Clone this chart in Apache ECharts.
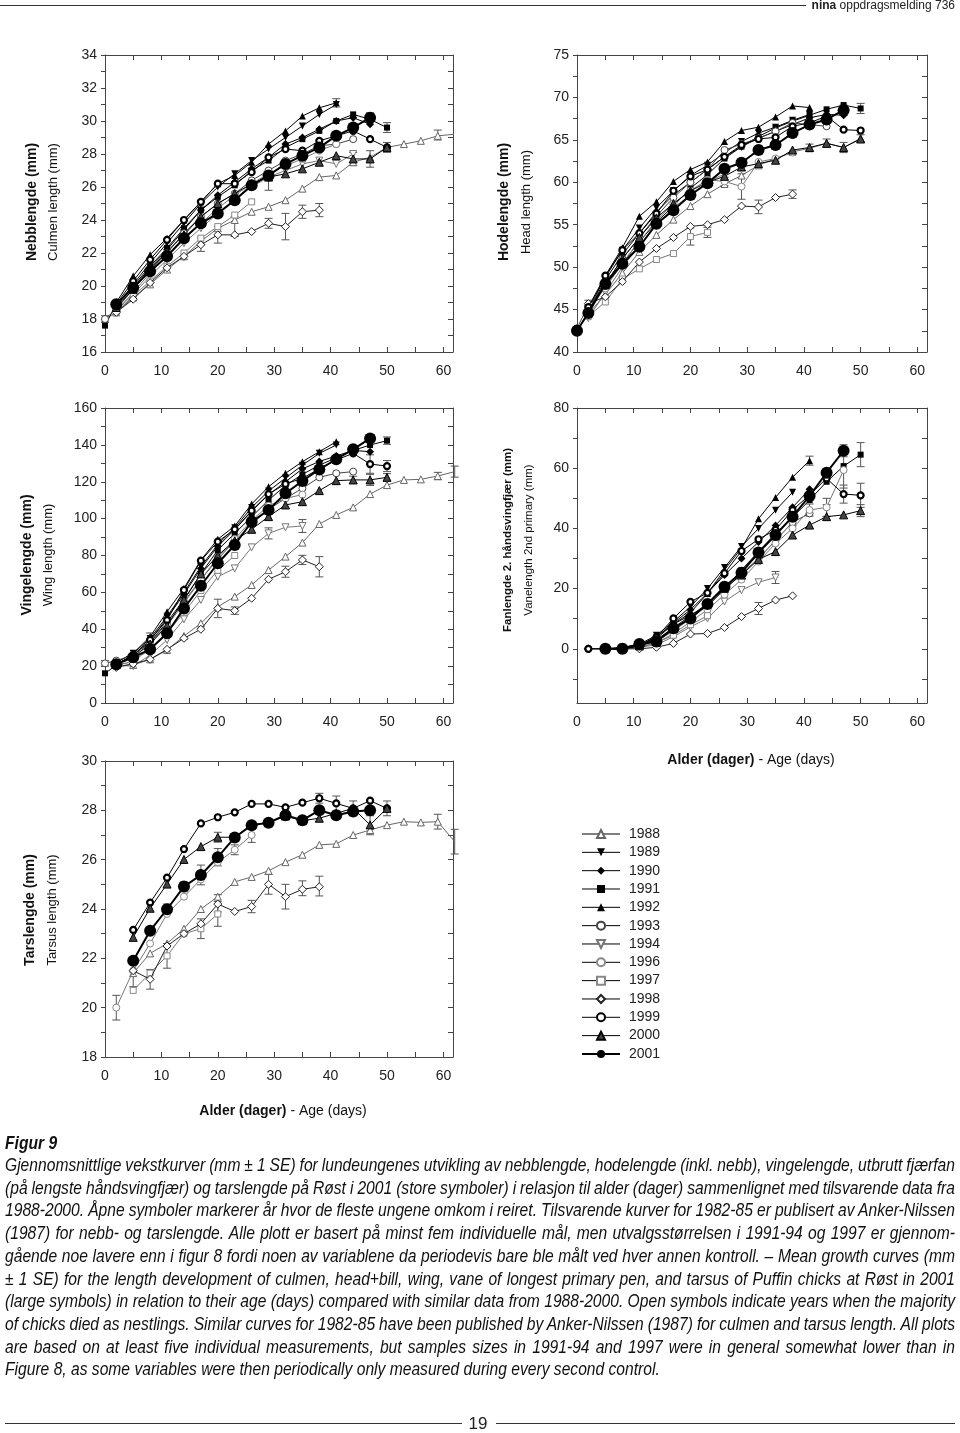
<!DOCTYPE html>
<html>
<head>
<meta charset="utf-8">
<script src="https://cdn.jsdelivr.net/npm/echarts@6/dist/echarts.min.js"></script>
<style>
html,body{margin:0;padding:0;background:#fff;}
#wrap{position:relative;width:960px;height:1433px;overflow:hidden;background:#fff;}
#chart{position:absolute;left:0;top:0;width:960px;height:1433px;}
.cap{position:absolute;left:5px;white-space:nowrap;font-family:'Liberation Sans Narrow','Liberation Sans',sans-serif;font-style:italic;font-size:18px;line-height:20px;color:#111;transform-origin:0 0;}
.hdr{position:absolute;font-family:'Liberation Sans Narrow','Liberation Sans',sans-serif;color:#222;}
.rule{position:absolute;height:1px;background:#333;}
</style>
</head>
<body>
<div id="wrap">
  <div id="chart"></div>
  <div class="rule" style="left:0;top:5px;width:806px;"></div>
  <div class="hdr" style="right:5px;top:-1px;font-size:12px;line-height:12px;"><b>nina</b> oppdragsmelding 736</div>
  <div id="caption"></div>
  <div class="rule" style="left:5px;top:1423px;width:457px;"></div>
  <div class="hdr" style="left:468px;top:1414px;width:20px;text-align:center;font-size:17px;line-height:20px;">19</div>
  <div class="rule" style="left:496px;top:1423px;width:459px;"></div>
</div>
<script>
// ---------------- DATA ----------------
const n = null;
const days = [0,2,5,8,11,14,17,20,23,26,29,32,35,38,41,44,47,50,53,56,59,62];
const years = ['1988','1989','1990','1991','1992','1993','1994','1996','1997','1998','1999','2000','2001'];

const xLabels = [0,10,20,30,40,50,60];
const culmenYLabels = [16,18,20,22,24,26,28,30,32,34];
const headYLabels = [40,45,50,55,60,65,70,75];
const wingYLabels = [0,20,40,60,80,100,120,140,160];
const primaryYLabels = [0,20,40,60,80];
const tarsusYLabels = [18,20,22,24,26,28,30];

// rows follow `years`
const culmenValues = [
  [18.0,18.4,19.3,20.1,21.0,21.8,22.7,23.5,24.0,24.5,24.8,25.2,25.9,26.6,26.7,27.5,27.8,28.4,28.6,28.8,29.1,29.2],
  [n,18.8,20.1,21.4,22.6,23.8,25.0,26.0,26.8,27.6,28.3,29.0,29.7,30.4,31.0],
  [n,18.8,19.9,21.1,22.2,23.4,24.6,25.5,26.3,27.1,27.8,28.6,29.0,29.5,30.0,30.2,29.8],
  [17.6,18.9,20.0,21.2,22.3,23.5,24.6,25.4,26.1,27.0,27.6,28.4,28.9,29.4,30.0,30.4,30.1,29.6],
  [n,19.0,20.6,21.9,22.9,24.0,25.1,26.2,26.7,27.5,28.6,29.4,30.3,30.8,31.1],
  [18.0,18.6,19.8,21.0,22.0,23.2,24.2,25.0,25.6,26.4,27.0,27.6,28.0,28.5,28.6,28.9],
  [n,18.5,19.5,20.6,21.6,22.6,23.5,24.4,25.2,26.0,26.6,27.0,27.4,27.6,27.4,28.0],
  [n,18.5,19.6,20.8,21.8,22.8,23.8,24.7,25.5,26.2,26.8,27.3,27.7,28.2,28.6],
  [n,18.4,19.4,20.3,21.2,22.0,22.9,23.6,24.3,25.1],
  [n,18.4,19.2,20.2,21.1,21.8,22.5,23.1,23.1,23.3,23.8,23.6,24.5,24.6],
  [n,18.9,20.3,21.6,22.8,24.0,25.1,26.2,26.2,26.9,27.8,28.3,28.2,28.8,29.1,29.4,28.9,28.4],
  [n,18.7,19.8,21.0,22.1,23.1,24.2,25.0,25.6,26.2,26.6,26.8,27.1,27.5,27.9,27.7,27.7,28.4],
  [n,18.9,19.9,20.9,21.8,22.9,23.8,24.4,25.2,26.1,26.7,27.4,27.9,28.4,29.1,29.6,30.2]
];
const headValues = [
  [n,44.5,46.8,49.3,51.8,53.8,55.6,57.2,58.6,59.8,60.8,62.0,62.8,63.6,64.0,64.6,64.1,65.2],
  [n,45.0,48.8,52.0,54.6,57.0,59.0,60.8,62.0,63.5,64.8,65.8,66.5,67.3,68.0],
  [n,44.8,48.5,51.5,54.0,56.5,58.5,60.0,61.5,63.0,64.2,65.2,66.0,66.8,67.6,68.0,67.9],
  [42.4,44.8,48.3,50.5,53.0,55.3,57.2,59.3,60.9,62.8,64.2,65.4,66.4,67.2,67.9,68.6,69.1,68.7],
  [n,45.0,49.0,52.3,56.0,57.7,60.1,61.5,62.4,64.8,66.1,66.5,67.7,69.0,68.8],
  [42.8,45.5,48.0,51.0,53.5,56.0,58.2,60.0,61.5,63.8,64.5,65.2,66.0,67.0,66.8,66.6],
  [n,44.0,47.0,50.0,52.5,55.0,57.0,58.5,60.0,61.0],
  [n,45.3,47.5,50.5,53.0,55.5,57.5,59.0,60.3,60.1,59.5,62.4,62.8,63.5],
  [n,44.2,45.9,48.6,49.8,50.9,51.6,53.6,54.1],
  [n,45.7,46.5,48.3,50.6,52.2,53.5,54.8,55.0,55.6,57.2,57.1,58.2,58.6],
  [n,45.3,49.0,52.0,54.0,56.3,59.0,60.7,61.5,63.0,64.4,65.1,65.3,66.6,67.0,67.8,66.2,66.1],
  [n,44.8,48.0,51.0,53.5,55.8,57.5,59.0,60.0,60.7,61.8,62.2,62.6,63.8,64.1,64.6,64.1,65.1],
  [42.5,44.6,48.0,50.4,52.4,55.1,56.7,58.5,59.9,61.6,62.3,63.8,64.4,65.8,66.8,67.4,68.5]
];
const wingValues = [
  [n,22.0,20.6,23.7,28.7,36.3,43.2,52.2,57.7,64.0,72.1,79.4,87.0,97.1,102.0,106.1,113.3,118.2,121.0,121.3,123.1,125.5],
  [n,22,27,35,47,60,74,86,95,106,115,122,129,135.4,139.9],
  [n,21,26,34,46,59,73,85,94,104,113,120,127,131,134,137,136.3],
  [16.1,20.5,26,33,44,56,70,83,92,101,110,118,124,129,133,137,139.9,142.3],
  [n,22,27,36,49.5,62.2,77.6,88.8,96,107.9,117.3,124.6,130.9,136.3,141.7],
  [21.5,23,26,33,43,55,67,78,88,97,105,111,116.4,122.4,124.6,125.5],
  [n,20.5,20.0,26.0,34.2,45.4,55.9,68.5,73.0,84.4,92.0,95.3,96.0],
  [n,21,25,32,42,54,67,79,89,99,107,111,113],
  [n,20,23,29,38,49,61,72,80],
  [n,19.3,21.2,23.7,29.1,35.1,40.0,51.3,50.1,56.8,67.1,71.2,77.6,73.9],
  [n,21,26.0,34.2,45.0,61.3,77.2,87.5,94.2,104.3,113.3,118.8,121.9,127.0,131.8,135.4,129.6,128.5],
  [n,21,25,32,42,56,70,80,88,94.2,101.1,107.4,109.2,115.2,120.6,121.0,121.0,122.4],
  [n,21,24.8,29.1,37.8,51.3,63.6,75.8,85.7,98.3,104.7,113.7,120.4,126.7,132.2,137.6,143.5]
];
const primaryValues = [
  [],
  [n,n,0,0.5,1.5,4.5,9,14,20,27,34,40,46,52],
  [n,n,0,0.3,1.2,4,8.5,13,18.5,24.5,30,35.5,41,47,53],
  [n,n,n,n,1.2,4,8.2,11.2,14,20.1,26.2,32.3,38.3,43.7,49.4,55.5,60.7,64.5],
  [n,n,0,0,0.9,3.4,8.2,12,18.4,26.2,33.4,43.2,50.3,57,62.5],
  [n,0,0,0,0.8,2.5,6,10,14.5,19.5,25,30,36,42,45],
  [n,n,n,0,0.5,1.3,4,7.3,10.1,15.7,19.5,22.1,23.7],
  [n,n,0,0,0.5,2,5,9,13,18,23,29,35,40,46.1,47,59.4],
  [n,n,n,0,0.5,2,4.5,8,11],
  [n,0,0,0,0,0.5,1.8,4.9,5.1,7.1,10.7,13.4,16.2,17.6],
  [n,0,0,0,0.9,3.8,10.1,15.6,18.6,25.1,32.5,36.4,39.5,46.1,51.1,56.6,51.4,51.0],
  [n,n,0,0,1,3,7,11,15,20.1,24.5,29.7,32.3,37.8,41.1,43.9,44.5,45.9],
  [n,n,0,0,1.6,2.4,6.8,10.1,14.9,20.6,25.3,32.0,37.8,43.9,50.8,58.5,65.8]
];
const tarsusValues = [
  [n,n,21.4,22.2,22.6,23.2,24.0,24.5,25.1,25.3,25.55,25.9,26.2,26.6,26.64,27.0,27.2,27.4,27.54,27.51,27.54,26.73],
  [],[],[],[],[],[],
  [n,20.0,21.5,22.6,23.8,24.5,25.2,25.9,26.4,27.0],
  [n,n,20.7,21.4,22.1,23.0,23.2,23.8],
  [n,n,21.5,21.15,22.5,23.0,23.4,24.2,23.9,24.1,25.0,24.5,24.8,24.9],
  [n,n,23.15,24.26,25.27,26.43,27.47,27.72,27.92,28.26,28.26,28.12,28.31,28.49,28.28,28.08,28.39,28.08],
  [n,n,22.85,24.03,25.01,26.01,26.53,26.91,26.91,27.41,27.5,27.77,27.58,27.68,27.88,28.08,27.41,28.08],
  [n,n,21.9,23.12,23.99,24.91,25.38,26.1,26.9,27.4,27.5,27.8,27.6,28.0,27.8,27.95,28.0]
];
// error bars: [day, mean, SE]
const culmenErr = [[0,18.0,0.2],[17,22.5,0.4],[20,23.1,0.5],[23,23.6,0.6],[29,23.8,0.3],[32,23.6,0.8],[35,24.5,0.4],[38,24.6,0.4],[41,31.1,0.25],[44,27.7,0.4],[47,30.2,0.3],[47,27.7,0.5],[50,29.6,0.3],[50,28.4,0.3],[59,29.15,0.3],[29,26.1,0.3],[17,25.0,0.2]];
const headErr = [[2,45.3,0.8],[20,53.6,1.0],[23,54.1,0.6],[29,59.5,1.5],[32,57.1,0.8],[38,58.6,0.5],[44,64.6,0.5],[47,64.1,0.6],[50,65.2,0.4],[50,68.7,0.6],[47,68.5,0.6],[41,64.1,0.4],[26,60.1,0.5]];
const wingErr = [[20,51.3,5],[23,50.1,2],[32,71.2,3],[35,77.6,2.5],[38,73.9,5.5],[35,96,3.5],[29,92,3],[47,129.6,5],[50,128.5,3],[44,121,2],[47,121,3],[50,122.4,2],[50,142.3,2],[47,143.5,2],[59,123.1,2],[62,125.5,3],[0,21.5,1.5],[8,36,2],[23,86,2]];
const primaryErr = [[50,64.5,4],[50,51,4],[50,45.9,2],[47,65.8,2],[47,51.4,3],[47,59.4,6],[44,47,3],[41,46.1,2],[38,43.9,3],[41,62.5,1.5],[35,23.7,2],[32,13.4,2],[44,45.9,2]];
const tarsusErr = [[2,20.0,0.5],[5,21.15,0.3],[8,21.15,0.4],[11,22.1,0.5],[17,23.2,0.4],[20,23.8,0.5],[20,24.23,0.35],[26,24.1,0.25],[29,25.0,0.4],[32,24.5,0.5],[35,24.84,0.3],[38,24.93,0.4],[17,25.38,0.4],[20,26.1,0.35],[47,28.08,0.3],[50,28.08,0.3],[59,27.54,0.3],[62,26.73,0.5],[20,26.91,0.2],[47,27.41,0.4],[23,26.4,0.2],[26,27.0,0.3],[44,28.08,0.3],[38,28.49,0.2],[41,28.28,0.3],[11,24.0,0.2],[14,24.9,0.2]];

const captionLines = [
  'Gjennomsnittlige vekstkurver (mm ± 1 SE) for lundeungenes utvikling av nebblengde, hodelengde (inkl. nebb), vingelengde, utbrutt fjærfan',
  '(på lengste håndsvingfjær) og tarslengde på Røst i 2001 (store symboler) i relasjon til alder (dager) sammenlignet med tilsvarende data fra',
  '1988-2000. Åpne symboler markerer år hvor de fleste ungene omkom i reiret. Tilsvarende kurver for 1982-85 er publisert av Anker-Nilssen',
  '(1987) for nebb- og tarslengde. Alle plott er basert på minst fem individuelle mål, men utvalgsstørrelsen i 1991-94 og 1997 er gjennom-',
  'gående noe lavere enn i figur 8 fordi noen av variablene da periodevis bare ble målt ved hver annen kontroll. – Mean growth curves (mm',
  '± 1 SE) for the length development of culmen, head+bill, wing, vane of longest primary pen, and tarsus of Puffin chicks at Røst in 2001',
  '(large symbols) in relation to their age (days) compared with similar data from 1988-2000. Open symbols indicate years when the majority',
  'of chicks died as nestlings. Similar curves for 1982-85 have been published by Anker-Nilssen (1987) for culmen and tarsus length. All plots',
  'are based on at least five individual measurements, but samples sizes in 1991-94 and 1997 were in general somewhat lower than in',
  'Figure 8, as some variables were then periodically only measured during every second control.'
];

// ---------------- CAPTION (HTML text) ----------------
(function(){
  const cont = document.getElementById('caption');
  const fig = document.createElement('div');
  fig.className = 'cap'; fig.style.fontWeight = 'bold'; fig.style.top = '1133px';
  fig.textContent = 'Figur 9';
  cont.appendChild(fig);
  const els = captionLines.map((t,i)=>{
    const d = document.createElement('div');
    d.className = 'cap'; d.textContent = t;
    d.style.top = (1155 + 22.7*i) + 'px';
    cont.appendChild(d); return d;
  });
  const widths = els.map(e => e.getBoundingClientRect().width);
  const ratios = widths.slice(0,-1).map(w => 950/w).sort((a,b)=>a-b);
  let s = ratios[Math.floor(ratios.length/2)];
  if (s > 1) s = 1;
  fig.style.transform = 'scaleX(' + s + ')';
  els.forEach((e,i)=>{
    e.style.transform = 'scaleX(' + s + ')';
    if (i < els.length-1) {
      const sp = (captionLines[i].match(/ /g)||[]).length;
      e.style.wordSpacing = ((950/s - widths[i]) / sp) + 'px';
    }
  });
})();

// ---------------- CHART ----------------
const FONT = "'Liberation Sans', Arial, sans-serif";
const AX = '#444';
const DOWN = 'path://M0,0L10,0L5,9Z';
const styles = {
  '1988': {symbol:'triangle', size:7, fill:'#fff', stroke:'#666', bw:1, line:'#666', lw:1},
  '1989': {symbol:DOWN, size:7, fill:'#000', stroke:'#000', bw:0, line:'#000', lw:1},
  '1990': {symbol:'diamond', size:8, fill:'#000', stroke:'#000', bw:0, line:'#000', lw:1},
  '1991': {symbol:'rect', size:6, fill:'#000', stroke:'#000', bw:0, line:'#000', lw:1},
  '1992': {symbol:'triangle', size:7, fill:'#000', stroke:'#000', bw:0, line:'#000', lw:1},
  '1993': {symbol:'circle', size:7, fill:'#fff', stroke:'#444', bw:1, line:'#444', lw:1},
  '1994': {symbol:DOWN, size:7, fill:'#fff', stroke:'#777', bw:1, line:'#777', lw:1},
  '1996': {symbol:'circle', size:7, fill:'#fff', stroke:'#888', bw:1, line:'#777', lw:1},
  '1997': {symbol:'rect', size:6, fill:'#fff', stroke:'#888', bw:1, line:'#777', lw:1},
  '1998': {symbol:'diamond', size:8, fill:'#fff', stroke:'#222', bw:1, line:'#222', lw:1},
  '1999': {symbol:'circle', size:6, fill:'#fff', stroke:'#000', bw:2.2, line:'#000', lw:1},
  '2000': {symbol:'triangle', size:8, fill:'#444', stroke:'#000', bw:1, line:'#000', lw:1},
  '2001': {symbol:'circle', size:12, fill:'#000', stroke:'#000', bw:0, line:'#000', lw:2}
};

function range(a, b, step){ const r=[]; for(let v=a; v<=b+1e-9; v+=step) r.push(+v.toFixed(3)); return r; }

const panels = [
  {values:culmenValues, err:culmenErr, grid:{left:105,top:55,width:348,height:297}, y:[16,34], yLabels:culmenYLabels, yTicks:range(16,34,1),
   t1:'Nebblengde (mm)', t2:'Culmen length (mm)', tx:[32,53], ty:202, f1:14, f2:13},
  {values:headValues, err:headErr, grid:{left:577,top:55,width:350,height:297}, y:[40,75], yLabels:headYLabels, yTicks:range(40,75,2.5),
   t1:'Hodelengde (mm)', t2:'Head length (mm)', tx:[504,526], ty:202, f1:14, f2:13},
  {values:wingValues, err:wingErr, grid:{left:105,top:408,width:348,height:295}, y:[0,160], yLabels:wingYLabels, yTicks:range(0,160,10),
   t1:'Vingelengde (mm)', t2:'Wing length (mm)', tx:[27,48], ty:555, f1:14, f2:13},
  {values:primaryValues, err:primaryErr, grid:{left:577,top:408,width:350,height:295}, y:[-18,80], yLabels:primaryYLabels, yTicks:range(-10,80,10),
   t1:'Fanlengde 2. håndsvingfjær (mm)', t2:'Vanelength 2nd primary (mm)', tx:[508,529], ty:540, f1:11.5, f2:11.5},
  {values:tarsusValues, err:tarsusErr, grid:{left:105,top:761,width:348,height:296}, y:[18,30], yLabels:tarsusYLabels, yTicks:range(18,30,1),
   t1:'Tarslengde (mm)', t2:'Tarsus length (mm)', tx:[30,52], ty:910, f1:14, f2:13}
];
const xTicks = range(0,60,5);
const XMAX = 61.7;

const grids = [], xAxes = [], yAxes = [], series = [], graphics = [];
panels.forEach((p,k)=>{
  grids.push(Object.assign({containLabel:false}, p.grid));
  const lbl = {fontSize:14, fontFamily:FONT, color:'#222'};
  xAxes.push({gridIndex:k, type:'value', min:0, max:XMAX, position:'bottom',
    axisLine:{show:true, onZero:false, lineStyle:{color:AX, width:1}},
    axisTick:{show:true, inside:true, length:5, customValues:xTicks, lineStyle:{color:AX}},
    axisLabel:Object.assign({show:true, customValues:xLabels, margin:12}, lbl),
    splitLine:{show:false}});
  xAxes.push({gridIndex:k, type:'value', min:0, max:XMAX, position:'top',
    axisLine:{show:true, onZero:false, lineStyle:{color:AX, width:1}},
    axisTick:{show:true, inside:true, length:5, customValues:xTicks, lineStyle:{color:AX}},
    axisLabel:{show:false}, splitLine:{show:false}});
  yAxes.push({gridIndex:k, type:'value', min:p.y[0], max:p.y[1], position:'left',
    axisLine:{show:true, onZero:false, lineStyle:{color:AX, width:1}},
    axisTick:{show:true, inside:false, length:4, customValues:p.yTicks, lineStyle:{color:AX}},
    axisLabel:Object.assign({show:true, customValues:p.yLabels, margin:8}, lbl),
    splitLine:{show:false}});
  yAxes.push({gridIndex:k, type:'value', min:p.y[0], max:p.y[1], position:'right',
    axisLine:{show:true, onZero:false, lineStyle:{color:AX, width:1}},
    axisTick:{show:true, inside:true, length:5, customValues:p.yTicks, lineStyle:{color:AX}},
    axisLabel:{show:false}, splitLine:{show:false}});

  // error bars
  series.push({type:'custom', name:'SE', xAxisIndex:2*k, yAxisIndex:2*k, z:1, silent:true,
    encode:{x:0, y:1}, data:p.err,
    renderItem:(params, api)=>{
      const x = api.value(0), m = api.value(1), s = api.value(2);
      const a = api.coord([x, m+s]), b = api.coord([x, m-s]); const w = 4;
      const st = {stroke:'#555', lineWidth:1};
      return {type:'group', children:[
        {type:'line', shape:{x1:a[0],y1:a[1],x2:b[0],y2:b[1]}, style:st},
        {type:'line', shape:{x1:a[0]-w,y1:a[1],x2:a[0]+w,y2:a[1]}, style:st},
        {type:'line', shape:{x1:b[0]-w,y1:b[1],x2:b[0]+w,y2:b[1]}, style:st}
      ]};
    }});

  years.forEach((yr,j)=>{
    const v = p.values[j] || [];
    const data = days.map((d,i)=>[d, v[i]]).filter(q => q[1] != null);
    const st = styles[yr];
    series.push({type:'line', name:yr, xAxisIndex:2*k, yAxisIndex:2*k, data:data,
      symbol:st.symbol, symbolSize:st.size, showAllSymbol:true, z:2+j*0.1, silent:true,
      emphasis:{disabled:true},
      itemStyle:{color:st.fill, borderColor:st.stroke, borderWidth:st.bw},
      lineStyle:{color:st.line, width:st.lw}});
  });

  graphics.push({type:'text', x:p.tx[0], y:p.ty, rotation:Math.PI/2,
    style:{text:p.t1, fontSize:p.f1, fontWeight:'bold', fontFamily:FONT, fill:'#111', align:'center', verticalAlign:'middle'}});
  graphics.push({type:'text', x:p.tx[1], y:p.ty, rotation:Math.PI/2,
    style:{text:p.t2, fontSize:p.f2, fontFamily:FONT, fill:'#111', align:'center', verticalAlign:'middle'}});
});

const ageRich = {b:{fontWeight:'bold', fontSize:14, fontFamily:FONT, fill:'#111'}, r:{fontSize:14, fontFamily:FONT, fill:'#111'}};
graphics.push({type:'text', x:751, y:760, style:{text:'{b|Alder (dager)}{r| - Age (days)}', rich:ageRich, align:'center', verticalAlign:'middle'}});
graphics.push({type:'text', x:283, y:1111, style:{text:'{b|Alder (dager)}{r| - Age (days)}', rich:ageRich, align:'center', verticalAlign:'middle'}});

const legendData = years.map(yr => ({name:yr, lineStyle:{color:'#000', width: yr === '2001' ? 2 : 1}}));

const chart = echarts.init(document.getElementById('chart'), null, {renderer:'canvas'});
chart.setOption({
  backgroundColor:'#fff',
  animation:false,
  grid:grids, xAxis:xAxes, yAxis:yAxes, series:series, graphic:graphics,
  legend:{data:legendData, orient:'vertical', left:576, top:822, padding:5, itemWidth:38, itemHeight:10, itemGap:4.33,
    selectedMode:false, formatter:name => ' ' + name,
    textStyle:{fontFamily:'Liberation Sans', fontSize:14, color:'#222'}}
});
</script>
</body>
</html>
